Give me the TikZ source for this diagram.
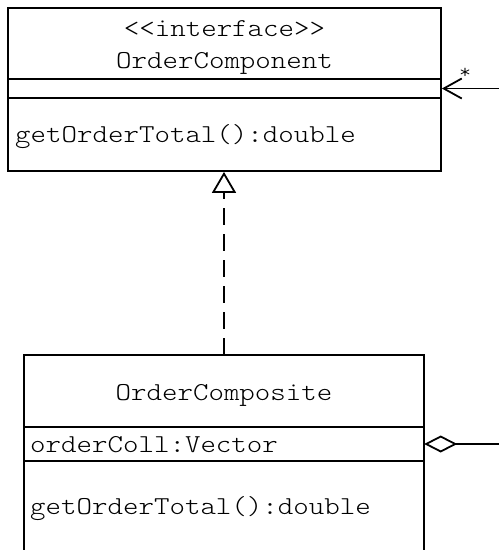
\documentclass[tikz,border=0pt]{standalone}
\usepackage{fontspec}
\setmonofont{lmmonolt10-regular.otf}[FakeStretch=1.143]
\usetikzlibrary{arrows.meta}
\tikzset{
  umlbox/.style={draw, line width=1.8pt, inner sep=0pt},
  umltext/.style={font=\ttfamily\fontsize{25.8}{28}\selectfont, inner sep=0pt},
  sepline/.style={line width=1.8pt},
  conn/.style={line width=1.8pt},
  realize/.style={conn, dash pattern=on 17pt off 9pt, -{Triangle[open, length=21pt, width=24pt]}},
  aggr/.style={conn, -{Diamond[open, length=33pt, width=17pt]}},
  nav/.style={conn, -{Straight Barb[length=18pt, width=20pt]}},
}
\begin{document}
\begin{tikzpicture}[x=1pt,y=-1pt]
\useasboundingbox (0,0) rectangle (499,550);
\fill[white] (0,0) rectangle (499,550);
% top interface box
\node[umlbox, minimum width=433pt, minimum height=163pt] (comp) at (224.5,89.5) {};
\draw[sepline] (comp.west |- 0,79) -- (comp.east |- 0,79);
\draw[sepline] (comp.west |- 0,98) -- (comp.east |- 0,98);
\node[umltext, anchor=base] (stereo) at (224.5,36) {<<interface>>};
\node[umltext, anchor=base] (compname) at (224.5,68) {OrderComponent};
\node[umltext, anchor=base west] (compop) at (15,142) {getOrderTotal():double};
% bottom composite box (open at the bottom)
\node[inner sep=0pt, minimum width=400pt, minimum height=200pt] (compo) at (224,455) {};
\draw[sepline] (24,552) -- (24,355) -- (424,355) -- (424,552);
\draw[sepline] (24,427) -- (424,427);
\draw[sepline] (24,461) -- (424,461);
\node[umltext, anchor=base] (componame) at (224,400) {OrderComposite};
\node[umltext, anchor=base west] (attr) at (30,452) {orderColl:Vector};
\node[umltext, anchor=base west] (compoop) at (30,514) {getOrderTotal():double};
% connectors
\coordinate (navstart) at (499,88.5);
\coordinate (aggrend) at (499,444);
\draw[nav] (navstart) -- (comp.east |- navstart);
\node[font=\ttfamily\fontsize{20}{22}\selectfont, inner sep=0pt] (mult) at (465,73) {*};
\draw[realize] (compo.north) -- (comp.south -| compo.north);
\draw[aggr] (aggrend) -- (compo.east |- aggrend);
\end{tikzpicture}
\end{document}
